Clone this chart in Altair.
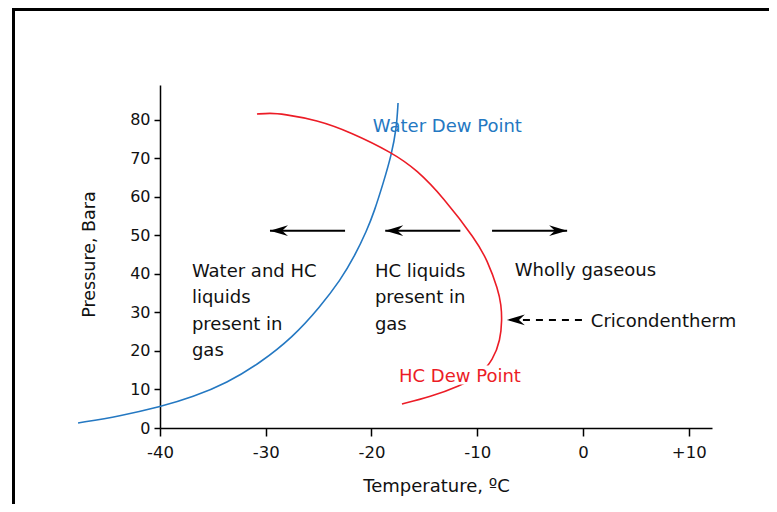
import altair as alt
import pandas as pd

# ---- data ----
water_T = [-47.75, -43.78, -40.0, -36.88, -33.66, -30.54, -27.42, -24.87, -22.93, -21.63, -20.42, -19.76, -18.86, -18.12, -17.63, -17.49]
water_P = [1.30, 3.11, 5.45, 8.04, 11.68, 16.87, 23.61, 31.40, 38.40, 44.40, 51.40, 56.00, 63.80, 70.80, 77.80, 84.33]

hc_T = [-30.83, -29.60, -28.37, -25.15, -22.03, -17.97, -15.70, -13.24, -10.12, -9.06, -8.01, -7.74, -7.66, -7.81, -8.51, -9.74, -11.63, -14.47, -17.12]
hc_P = [81.47, 81.73, 81.47, 79.92, 76.83, 71.35, 66.94, 59.94, 48.78, 43.59, 35.81, 31.91, 28.02, 22.83, 17.64, 13.75, 10.90, 8.04, 6.23]

x_ticks = [-40, -30, -20, -10, 0, 10]
y_ticks = [0, 10, 20, 30, 40, 50, 60, 70, 80]

# annotations (data units)
note_text = ["Water and HC\nliquids\npresent in\ngas", "HC liquids\npresent in\ngas", "Wholly gaseous", "Cricondentherm"]
note_T = [-36.98, -19.68, -6.45, 0.74]
note_P = [39.3, 39.3, 39.5, 26.3]

curve_label_text = ["Water Dew Point", "HC Dew Point"]
curve_label_T = [-19.87, -17.4]
curve_label_P = [76.9, 11.9]
curve_label_series = ["water", "hc"]

arrow_tail = [-22.5, -11.6, -8.6, -0.1]
arrow_tip = [-29.6, -18.7, -1.5, -7.2]
arrow_P = [51.2, 51.2, 51.2, 28.05]
arrow_dir = ["left", "left", "right", "left"]
arrow_dashed = [False, False, False, True]

# label mask box behind "HC Dew Point"
mask_T = [-17.6]
mask_T2 = [-5.7]
mask_P = [11.3]
mask_P2 = [16.2]

BLUE = "#2478c2"
RED = "#ec1c26"
FONT = "DejaVu Sans"

curves = pd.DataFrame({
    "T": water_T + hc_T,
    "P": water_P + hc_P,
    "series": ["water"] * len(water_T) + ["hc"] * len(hc_T),
    "idx": list(range(len(water_T))) + list(range(len(hc_T))),
})
notes = pd.DataFrame({"text": note_text, "T": note_T, "P": note_P})
clabels = pd.DataFrame({"text": curve_label_text, "T": curve_label_T, "P": curve_label_P, "series": curve_label_series})
arrows = pd.DataFrame({"tail": arrow_tail, "tip": arrow_tip, "P": arrow_P, "dir": arrow_dir, "dashed": arrow_dashed})
mask = pd.DataFrame({"T": mask_T, "T2": mask_T2, "P": mask_P, "P2": mask_P2})

xscale = alt.Scale(domain=[-40, 12.2], nice=False, zero=False)
yscale = alt.Scale(domain=[0, 89], nice=False, zero=False)
color_scale = alt.Scale(domain=["water", "hc"], range=[BLUE, RED])

xaxis = alt.Axis(
    values=x_ticks, title="Temperature, ºC", grid=False, labelFlush=False,
    labelExpr="datum.value > 0 ? '+' + datum.value : '' + datum.value",
    domainColor="black", domainWidth=1.5, tickColor="black", tickWidth=1.5, tickSize=8,
    labelFont=FONT, labelFontSize=16.5, labelColor="#111", labelPadding=8,
    titleFont=FONT, titleFontSize=18, titleFontWeight="normal", titleColor="#111",
    titleX=276, titleY=58, titleBaseline="middle",
)
yaxis = alt.Axis(
    values=y_ticks, title="Pressure, Bara", grid=False, labelFlush=False,
    domainColor="black", domainWidth=1.5, tickColor="black", tickWidth=1.5, tickSize=6,
    labelFont=FONT, labelFontSize=16, labelColor="#111", labelPadding=4,
    titleFont=FONT, titleFontSize=17.5, titleFontWeight="normal", titleColor="#111",
    titleX=-71, titleY=169, titleBaseline="middle", titleAngle=-90,
)

frame = alt.Chart(pd.DataFrame({"a": [0]})).mark_rect(
    fill=None, fillOpacity=0, stroke="black", strokeWidth=3
).encode(
    x=alt.value(-146.5), x2=alt.value(800), y=alt.value(-75.5), y2=alt.value(600)
)

lines = alt.Chart(curves).mark_line(strokeWidth=1.6, interpolate="basis").encode(
    x=alt.X("T:Q", scale=xscale, axis=xaxis),
    y=alt.Y("P:Q", scale=yscale, axis=yaxis),
    color=alt.Color("series:N", scale=color_scale, legend=None),
    order=alt.Order("idx:Q"),
    detail="series:N",
)

mask_layer = alt.Chart(mask).mark_rect(fill="white").encode(
    x="T:Q", x2="T2:Q", y="P:Q", y2="P2:Q"
)

note_layer = alt.Chart(notes).mark_text(
    font=FONT, fontSize=18, align="left", baseline="alphabetic",
    lineBreak="\n", lineHeight=26.5, color="#111"
).encode(x="T:Q", y="P:Q", text="text:N")

clabel_layer = alt.Chart(clabels).mark_text(
    font=FONT, fontSize=18, align="left", baseline="alphabetic"
).encode(
    x="T:Q", y="P:Q", text="text:N",
    color=alt.Color("series:N", scale=color_scale, legend=None),
)

solid_shafts = alt.Chart(arrows).transform_filter("!datum.dashed").mark_rule(
    color="black", strokeWidth=2
).encode(x="tail:Q", x2="tip:Q", y="P:Q")

dashed_shafts = alt.Chart(arrows).transform_filter("datum.dashed").mark_rule(
    color="black", strokeWidth=2, strokeDash=[7, 6]
).encode(x="tail:Q", x2="tip:Q", y="P:Q")

HEAD_LEFT = "M0,0 L2,-0.6 L1.35,0 L2,0.6 Z"
HEAD_RIGHT = "M0,0 L-2,-0.6 L-1.35,0 L-2,0.6 Z"

heads_left = alt.Chart(arrows).transform_filter("datum.dir == 'left'").mark_point(
    shape=HEAD_LEFT, filled=True, fill="black", stroke=None, opacity=1, size=324
).encode(x="tip:Q", y="P:Q")

heads_right = alt.Chart(arrows).transform_filter("datum.dir == 'right'").mark_point(
    shape=HEAD_RIGHT, filled=True, fill="black", stroke=None, opacity=1, size=324
).encode(x="tip:Q", y="P:Q")

chart = alt.layer(
    frame, lines, mask_layer, note_layer, clabel_layer,
    solid_shafts, dashed_shafts, heads_left, heads_right
).properties(
    width=552, height=343,
    padding={"left": 152, "top": 77, "right": 57, "bottom": 76},
    autosize=alt.AutoSizeParams(type="none"),
    background="white",
).configure_view(stroke=None)

chart.save("out.html", embed_options={"renderer": "svg", "actions": False})
